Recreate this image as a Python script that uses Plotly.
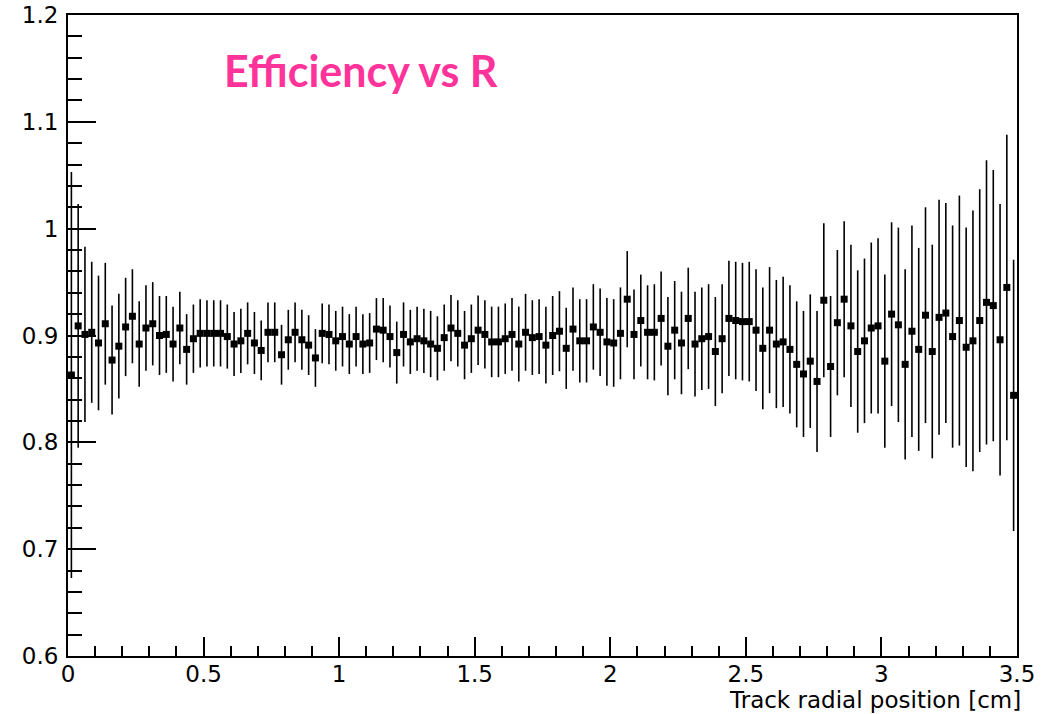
import plotly.graph_objects as go

# Bin layout: 140 bins of width 0.025 cm from 0 to 3.5
bin_width = 0.025
n_bins = 140
radius = [round(bin_width * (i + 0.5), 4) for i in range(n_bins)]

efficiency = [
    0.863, 0.909, 0.901, 0.903, 0.893, 0.911, 0.877, 0.890, 0.908, 0.918,
    0.892, 0.907, 0.911, 0.900, 0.901, 0.892, 0.907, 0.887, 0.897, 0.902,
    0.902, 0.902, 0.902, 0.899, 0.892, 0.895, 0.902, 0.893, 0.886, 0.903,
    0.903, 0.882, 0.896, 0.903, 0.896, 0.891, 0.879, 0.902, 0.901, 0.895,
    0.899, 0.892, 0.899, 0.892, 0.893, 0.906, 0.905, 0.899, 0.884, 0.901,
    0.894, 0.897, 0.895, 0.892, 0.888, 0.898, 0.907, 0.902, 0.891, 0.897,
    0.905, 0.901, 0.894, 0.894, 0.897, 0.901, 0.892, 0.903, 0.898, 0.899,
    0.891, 0.900, 0.904, 0.888, 0.906, 0.895, 0.895, 0.908, 0.903, 0.894,
    0.893, 0.902, 0.934, 0.901, 0.914, 0.903, 0.903, 0.916, 0.890, 0.905,
    0.893, 0.916, 0.892, 0.897, 0.899, 0.885, 0.897, 0.916, 0.914, 0.913,
    0.913, 0.905, 0.888, 0.905, 0.892, 0.894, 0.887, 0.873, 0.864, 0.876,
    0.857, 0.933, 0.871, 0.912, 0.934, 0.909, 0.885, 0.895, 0.907, 0.909,
    0.876, 0.920, 0.910, 0.873, 0.904, 0.887, 0.919, 0.885, 0.917, 0.921,
    0.899, 0.914, 0.889, 0.895, 0.914, 0.931, 0.928, 0.896, 0.945, 0.844,
]

efficiency_err = [
    0.190, 0.114, 0.082, 0.066, 0.063, 0.057, 0.051, 0.049, 0.046, 0.044,
    0.040, 0.040, 0.039, 0.037, 0.036, 0.035, 0.034, 0.033, 0.032, 0.032,
    0.031, 0.031, 0.031, 0.030, 0.030, 0.030, 0.029, 0.029, 0.028, 0.028,
    0.028, 0.028, 0.028, 0.028, 0.028, 0.028, 0.027, 0.028, 0.028, 0.028,
    0.028, 0.028, 0.028, 0.028, 0.028, 0.029, 0.030, 0.029, 0.029, 0.030,
    0.030, 0.030, 0.030, 0.031, 0.030, 0.031, 0.031, 0.031, 0.032, 0.032,
    0.0325, 0.032, 0.033, 0.033, 0.033, 0.034, 0.035, 0.036, 0.035, 0.035,
    0.036, 0.037, 0.0375, 0.038, 0.039, 0.039, 0.039, 0.040, 0.041, 0.041,
    0.041, 0.043, 0.045, 0.042, 0.043, 0.044, 0.045, 0.044, 0.046, 0.046,
    0.048, 0.0475, 0.049, 0.048, 0.049, 0.051, 0.051, 0.054, 0.055, 0.055,
    0.056, 0.057, 0.057, 0.059, 0.060, 0.061, 0.060, 0.059, 0.059, 0.0625,
    0.066, 0.072, 0.066, 0.068, 0.073, 0.076, 0.076, 0.077, 0.080, 0.082,
    0.081, 0.086, 0.091, 0.089, 0.099, 0.095, 0.101, 0.100, 0.110, 0.103,
    0.104, 0.117, 0.112, 0.122, 0.123, 0.133, 0.127, 0.127, 0.143, 0.127,
]

x_ticks = [0, 0.5, 1, 1.5, 2, 2.5, 3, 3.5]
x_tick_labels = ["0", "0.5", "1", "1.5", "2", "2.5", "3", "3.5"]
y_ticks = [0.6, 0.7, 0.8, 0.9, 1.0, 1.1, 1.2]
y_tick_labels = ["0.6", "0.7", "0.8", "0.9", "1", "1.1", "1.2"]

title_text = "Efficiency vs R"
x_title = "Track radial position [cm]"

fig = go.Figure()
fig.add_trace(go.Scatter(
    x=radius,
    y=efficiency,
    mode="markers",
    marker=dict(symbol="square", size=7, color="black", line=dict(width=0)),
    error_y=dict(type="data", array=efficiency_err, visible=True,
                 color="black", thickness=1.6, width=0),
    showlegend=False,
))

axis_font = dict(family="DejaVu Sans, Liberation Sans, sans-serif", size=23, color="black")

fig.update_layout(
    width=1059, height=714,
    margin=dict(l=68, r=42, t=15, b=58, autoexpand=False),
    paper_bgcolor="white",
    plot_bgcolor="white",
    font=axis_font,
    xaxis=dict(
        range=[0, 3.5], automargin=False,
        tickmode="array", tickvals=x_ticks, ticktext=x_tick_labels,
        ticks="inside", ticklen=19, tickwidth=1.5, tickcolor="black",
        minor=dict(dtick=0.1, ticks="inside", ticklen=10, tickwidth=1.5, tickcolor="black"),
        showgrid=False, zeroline=False,
        showline=True, linecolor="black", linewidth=2, mirror=True,
        tickfont=axis_font,
        ticklabelstandoff=-4,
    ),
    yaxis=dict(
        range=[0.6, 1.2], automargin=False,
        tickmode="array", tickvals=y_ticks, ticktext=y_tick_labels,
        ticks="inside", ticklen=28, tickwidth=1.5, tickcolor="black",
        minor=dict(dtick=0.02, ticks="inside", ticklen=14, tickwidth=1.5, tickcolor="black"),
        showgrid=False, zeroline=False,
        showline=True, linecolor="black", linewidth=2, mirror=True,
        tickfont=axis_font,
        ticklabelstandoff=3,
    ),
    annotations=[
        dict(text=title_text, xref="paper", yref="paper",
             x=0.162, y=0.914, xanchor="left", yanchor="middle", showarrow=False,
             font=dict(family="Lato, Open Sans, sans-serif", size=43, color="#FF3399",
                       weight="bold")),
        dict(text=x_title, xref="paper", yref="paper",
             x=1.0063, y=-0.0686, xanchor="right", yanchor="middle", showarrow=False,
             font=axis_font),
    ],
)

fig.write_html("out.html", config={"displayModeBar": False},
               post_script="document.body.style.margin='0';")
